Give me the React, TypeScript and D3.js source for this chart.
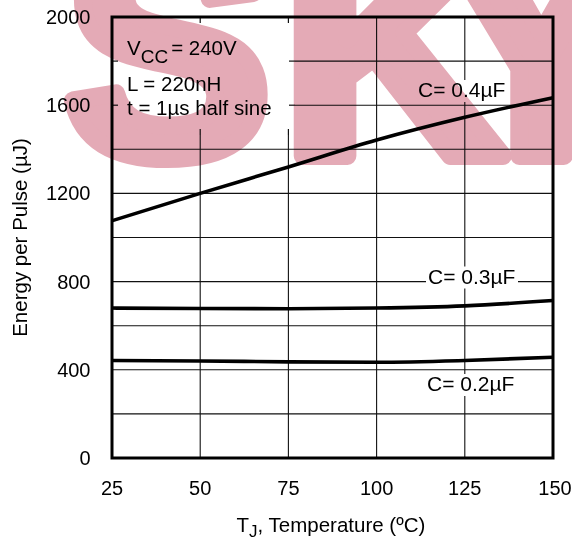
import React from "react";
import * as d3 from "d3";

const temps = [25, 50, 75, 100, 125, 150];
const energy04 = [1076, 1200, 1320, 1442, 1545, 1634];
const energy03 = [680, 678, 677, 680, 690, 714];
const energy02 = [442, 440, 436, 434, 442, 457];
const xTicks = [25, 50, 75, 100, 125, 150];
const yTicks = [0, 400, 800, 1200, 1600, 2000];
const yGrid = [200, 400, 600, 800, 1000, 1200, 1400, 1600, 1800];
const seriesLabels = ["C= 0.4µF", "C= 0.3µF", "C= 0.2µF"];

const W = 572;
const H = 539;
const FONT = "'Liberation Sans', Arial, Helvetica, sans-serif";

export default function App() {
  const x = d3.scaleLinear().domain([25, 150]).range([112, 553]);
  const y = d3.scaleLinear().domain([0, 2000]).range([458, 17]);
  const line = d3
    .line<number>()
    .x((_, i) => x(temps[i]))
    .y((d) => y(d))
    .curve(d3.curveMonotoneX);

  const series = [energy04, energy03, energy02];
  const boxR = 295;
  const boxB = 135;

  const labelPos = [
    { x: 418, y: 97 },
    { x: 428, y: 283.5 },
    { x: 427, y: 391 },
  ];

  return (
    <svg
      width={W}
      height={H}
      style={{ position: "absolute", left: 0, top: 0, display: "block", background: "#fff" }}
      fontFamily={FONT}
    >
      <rect x={0} y={0} width={W} height={H} fill="#fff" />
      {/* grid */}
      {yGrid.map((v) => (
        <line key={"h" + v} x1={x(25)} x2={x(150)} y1={y(v)} y2={y(v)} stroke="#111" strokeWidth={1.1} />
      ))}
      {xTicks.slice(1, -1).map((v) => (
        <line key={"v" + v} x1={x(v)} x2={x(v)} y1={y(2000)} y2={y(0)} stroke="#111" strokeWidth={1.1} />
      ))}
      {/* annotation box covering grid */}
      <rect x={x(25) + 1} y={y(2000) + 1} width={boxR - x(25) - 1} height={boxB - y(2000) - 1} fill="#fff" />
      {[50, 75].map((v) => (
        <line key={"tt" + v} x1={x(v)} x2={x(v)} y1={y(2000)} y2={y(2000) + 6} stroke="#111" strokeWidth={1.2} />
      ))}
      {[50, 75].map((v) => (
        <line key={"tb" + v} x1={x(v)} x2={x(v)} y1={boxB - 6} y2={boxB} stroke="#111" strokeWidth={1.2} />
      ))}
      {[1800, 1600].map((v) => (
        <line key={"tr" + v} x1={boxR - 6} x2={boxR} y1={y(v)} y2={y(v)} stroke="#111" strokeWidth={1.2} />
      ))}
      {[1800, 1600].map((v) => (
        <line key={"tl" + v} x1={x(25)} x2={x(25) + 6} y1={y(v)} y2={y(v)} stroke="#111" strokeWidth={1.2} />
      ))}
      {/* curves */}
      {series.map((s, i) => (
        <path key={"s" + i} d={line(s) || ""} fill="none" stroke="#000" strokeWidth={3.6} />
      ))}
      {/* series labels with white backgrounds */}
      {seriesLabels.map((t, i) => (
        <g key={"l" + i}>
          <rect x={labelPos[i].x - 2} y={labelPos[i].y - 17} width={92} height={22} fill="#fff" />
          <text x={labelPos[i].x} y={labelPos[i].y} fontSize={21} fill="#000">
            {t}
          </text>
        </g>
      ))}
      {/* frame */}
      <rect x={x(25)} y={y(2000)} width={x(150) - x(25)} height={y(0) - y(2000)} fill="none" stroke="#000" strokeWidth={3} />
      {/* annotation text */}
      <text x={127} y={55} fontSize={20.5} fill="#000">
        V
        <tspan fontSize={19} dy={8}>CC</tspan>
        <tspan fontSize={20.5} dy={-8} dx={3}>= 240V</tspan>
      </text>
      <text x={127} y={90.5} fontSize={20.5} fill="#000">L = 220nH</text>
      <text x={127} y={115} fontSize={20.5} fill="#000">t = 1µs half sine</text>
      {/* y ticks */}
      {yTicks.map((v) => (
        <text key={"yt" + v} x={90.5} y={y(v) + 7} fontSize={20} textAnchor="end" fill="#000">
          {v}
        </text>
      ))}
      {/* x ticks */}
      {xTicks.map((v) => (
        <text key={"xt" + v} x={x(v) + (v === 150 ? 2 : 0)} y={495} fontSize={20} textAnchor="middle" fill="#000">
          {v}
        </text>
      ))}
      {/* axis titles */}
      <text x={236.5} y={531.5} fontSize={20.5} fill="#000">
        T
        <tspan fontSize={17} dy={5}>J</tspan>
        <tspan fontSize={20.5} dy={-5}>, Temperature (ºC)</tspan>
      </text>
      <text
        transform={`translate(27,${(y(0) + y(2000)) / 2}) rotate(-90)`}
        fontSize={20.5}
        textAnchor="middle"
        fill="#000"
      >
        Energy per Pulse (µJ)
      </text>
      {/* watermark */}
      <g style={{ mixBlendMode: "multiply" }} fill="#e4aab6" stroke="#e4aab6" strokeWidth={18} strokeLinejoin="round" fontFamily={FONT} fontWeight={900}>
        <text x={64} y={156} fontSize={310}>S</text>
        <text x={282} y={156} fontSize={310}>K</text>
        <text x={438} y={156} fontSize={310}>Y</text>
      </g>
    </svg>
  );
}
